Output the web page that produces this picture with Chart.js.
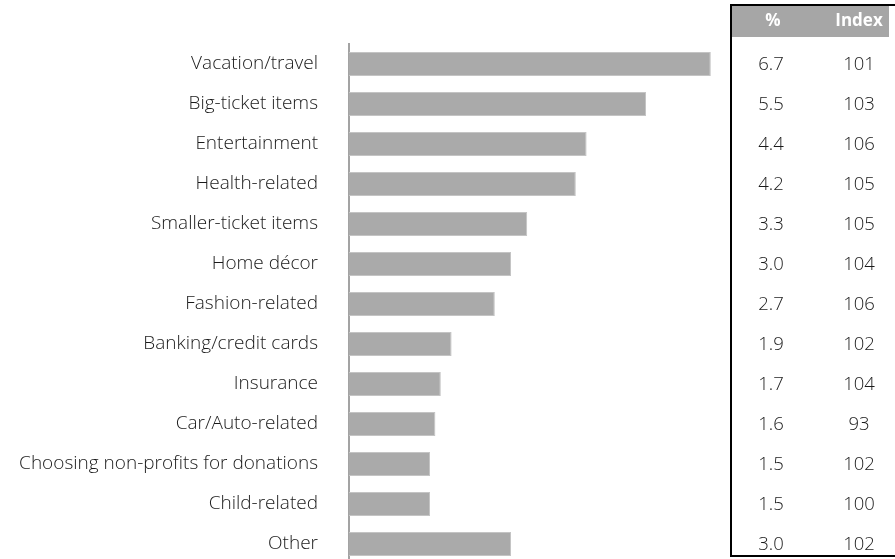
<!DOCTYPE html>
<html>
<head>
<meta charset="utf-8">
<script src="https://cdn.jsdelivr.net/npm/chart.js@4"></script>
<style>
  html, body { margin: 0; padding: 0; background: #fff; overflow: hidden; width: 895px; height: 559px; }
  canvas { display: block; }
</style>
</head>
<body>
<canvas id="c" width="895" height="570"></canvas>
<script>
// Categories, bar values (%) and index values shown in the side table
const categories = [
  'Vacation/travel', 'Big-ticket items', 'Entertainment', 'Health-related',
  'Smaller-ticket items', 'Home décor', 'Fashion-related', 'Banking/credit cards',
  'Insurance', 'Car/Auto-related', 'Choosing non-profits for donations',
  'Child-related', 'Other'
];
const pctValues = [6.7, 5.5, 4.4, 4.2, 3.3, 3.0, 2.7, 1.9, 1.7, 1.6, 1.5, 1.5, 3.0];
const indexValues = [101, 103, 106, 105, 105, 104, 106, 102, 104, 93, 102, 100, 102];
const tableHeaders = ['%', 'Index'];

const FONT = '"Open Sans", "DejaVu Sans", sans-serif';

// Side table with the % and Index columns, rows aligned to the category scale
const sideTable = {
  id: 'sideTable',
  afterDraw(chart) {
    const ctx = chart.ctx;
    const y = chart.scales.y;
    const left = 731, top = 5, bottom = 556, right = 905;
    const colPct = 771, colIdx = 859;
    ctx.save();
    // header band
    ctx.fillStyle = '#a6a6a6';
    ctx.fillRect(left, top, 889 - left, 32);
    ctx.fillStyle = '#ffffff';
    ctx.font = 'bold 17px ' + FONT;
    ctx.textAlign = 'center';
    ctx.textBaseline = 'middle';
    ctx.fillText(tableHeaders[0], colPct + 2, top + 16);
    ctx.fillText(tableHeaders[1], colIdx, top + 16);
    // body values
    ctx.fillStyle = '#1a1a1a';
    ctx.font = '300 18.5px ' + FONT;
    categories.forEach((c, i) => {
      const py = y.getPixelForValue(i);
      ctx.fillText(pctValues[i].toFixed(1), colPct, py + 1);
      ctx.fillText(String(indexValues[i]), colIdx, py + 1);
    });
    // outer frame
    ctx.strokeStyle = '#000000';
    ctx.lineWidth = 2;
    ctx.strokeRect(left, top, right - left, bottom - top);
    ctx.restore();
  }
};

new Chart(document.getElementById('c'), {
  type: 'bar',
  data: {
    labels: categories,
    datasets: [{
      data: pctValues,
      backgroundColor: '#aaaaaa',
      borderColor: '#c4c4c4',
      borderWidth: 1,
      barPercentage: 0.6,
      categoryPercentage: 1.0
    }]
  },
  options: {
    indexAxis: 'y',
    responsive: false,
    animation: false,
    devicePixelRatio: 1,
    layout: { padding: { top: 44, right: 168, bottom: 6, left: 0 } },
    plugins: { legend: { display: false }, tooltip: { enabled: false } },
    scales: {
      x: { display: false, min: 0, max: 7 },
      y: {
        afterFit(scale) {
          scale.width = 349;
          scale.paddingTop = 0;
          scale.paddingBottom = 0;
        },
        grid: { display: false, drawTicks: false },
        border: { display: true, color: '#a3a3a3', width: 2 },
        ticks: {
          padding: 31,
          color: '#1a1a1a',
          font: { family: FONT, size: 19, weight: '300' }
        }
      }
    }
  },
  plugins: [sideTable]
});
</script>
</body>
</html>
